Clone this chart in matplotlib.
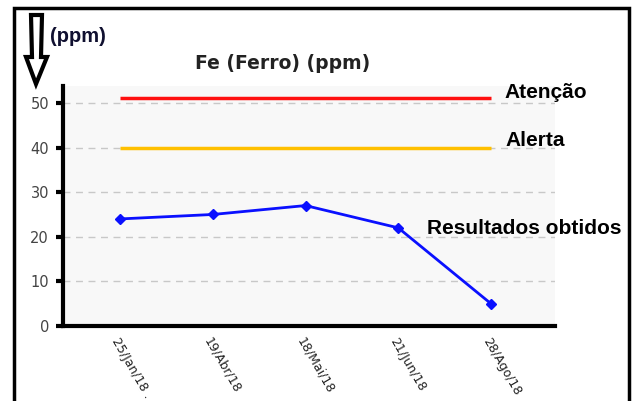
import matplotlib.pyplot as plt
from matplotlib.patches import Polygon, Rectangle

datas = ["25/Jan/18 .", "19/Abr/18", "18/Mai/18", "21/Jun/18", "28/Ago/18"]
resultados = [24, 25, 27, 22, 5]
atencao = 51
alerta = 40
y_ticks = [0, 10, 20, 30, 40, 50]

W, H = 638, 401
fig = plt.figure(figsize=(W / 100, H / 100), dpi=100)


def fx(px):
    return px / W


def fy(py):
    return 1 - py / H


ax = fig.add_axes([fx(63), fy(326), fx(555) - fx(63), fy(86) - fy(326)])
ax.set_facecolor("#f8f8f8")

x = list(range(len(datas)))
ax.plot(x, [atencao] * len(x), color="#ff1010", linewidth=2.5, solid_capstyle="butt", zorder=3)
ax.plot(x, [alerta] * len(x), color="#ffc000", linewidth=2.5, solid_capstyle="butt", zorder=3)
ax.plot(x, resultados, color="#0a10ff", linewidth=2, marker="D", markersize=5, zorder=4)

ax.set_xlim(-0.615, 4.69)
ax.set_ylim(0, 53.8)
ax.set_yticks(y_ticks)
ax.set_xticks(x)
ax.set_xticklabels(datas, rotation=-60, ha="left", va="top", rotation_mode="anchor",
                   fontsize=9, color="#222222")
ax.tick_params(axis="x", length=0, pad=7)
ax.tick_params(axis="y", length=5, width=3, labelsize=10.5, labelcolor="#444444", pad=5)

ax.grid(axis="y", color="#c8c8c8", linestyle=(0, (5, 4)), linewidth=1)
ax.set_axisbelow(True)
for side in ["top", "right"]:
    ax.spines[side].set_visible(False)
for side in ["left", "bottom"]:
    ax.spines[side].set_linewidth(3)
    ax.spines[side].set_color("black")

ax.set_title("Fe (Ferro) (ppm)", fontsize=13.5, fontweight="bold", color="#222222", pad=12,
             x=0.446)

lab = dict(fontsize=15, fontweight="bold", family=["Liberation Sans", "DejaVu Sans"], color="black")
fig.text(fx(504), fy(93), "Atenção", va="center", ha="left", **lab)
fig.text(fx(505), fy(140), "Alerta", va="center", ha="left", **lab)
fig.text(fx(427), fy(228), "Resultados obtidos", va="center", ha="left", **lab)
fig.text(fx(50), fy(36), "(ppm)", va="center", ha="left", fontsize=14.5, fontweight="bold",
         family=["Liberation Sans", "DejaVu Sans"], color="#101030")

# seta oca apontando para baixo
seta = [(31, 15), (42, 15), (41, 57), (47, 57), (36, 84), (26, 57), (32, 57)]
fig.add_artist(Polygon([(fx(a), fy(b)) for a, b in seta], closed=True, facecolor="white",
                       edgecolor="black", linewidth=3, transform=fig.transFigure))

# moldura
fig.add_artist(Rectangle((fx(14), fy(410)), fx(629) - fx(14), fy(8) - fy(410), fill=False,
                         edgecolor="black", linewidth=2.5, transform=fig.transFigure,
                         clip_on=False))

fig.savefig("out.png", dpi=100)
